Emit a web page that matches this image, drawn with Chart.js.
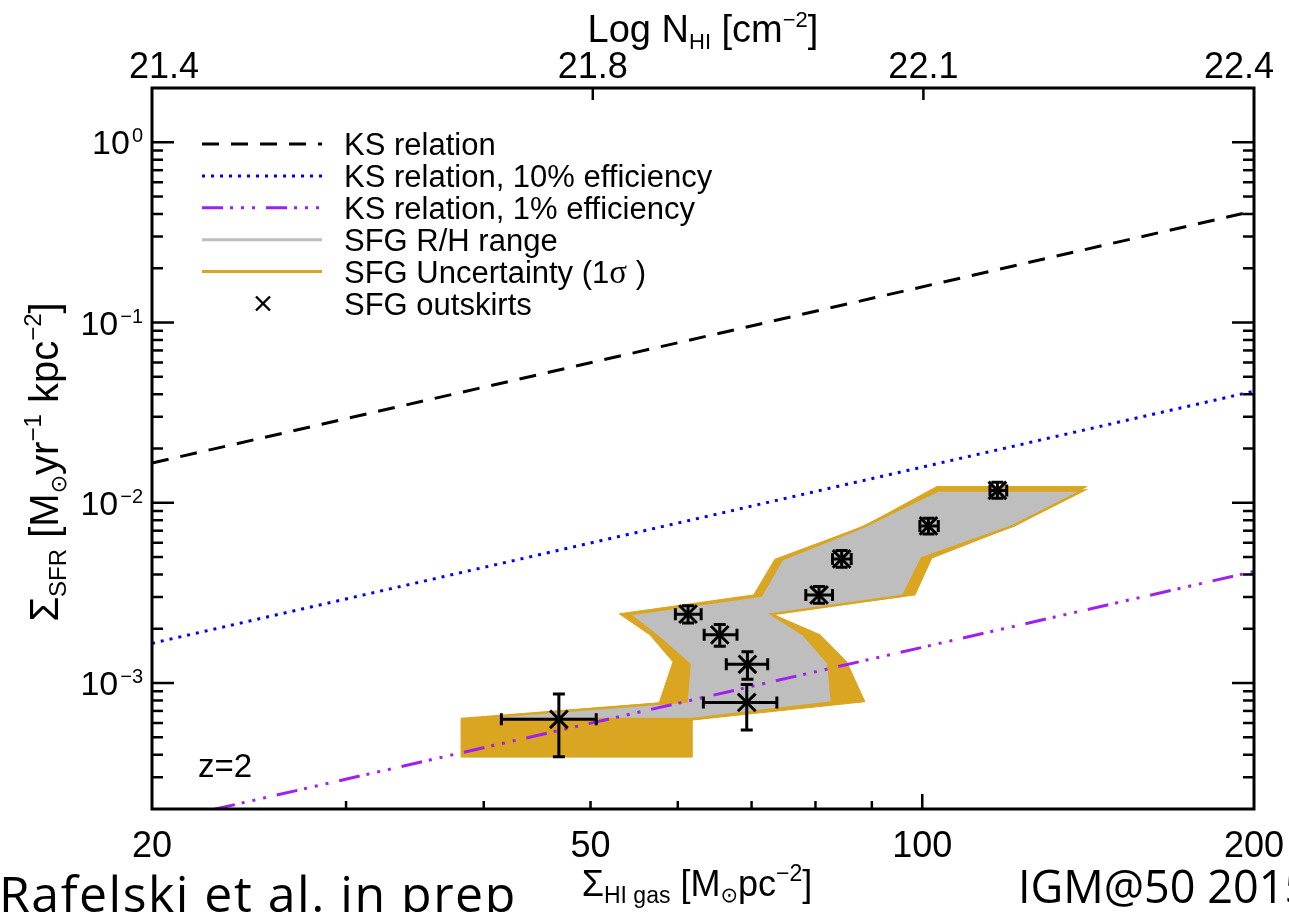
<!DOCTYPE html>
<html>
<head>
<meta charset="utf-8">
<title>Star formation efficiency in SFG outskirts, z=2</title>
<script src="https://cdn.jsdelivr.net/npm/chart.js@4.4.1/dist/chart.umd.min.js"></script>
<style>
  html, body { margin: 0; padding: 0; background: #fff; overflow: hidden; }
  #wrap { width: 1289px; height: 912px; position: relative; }
  canvas { display: block; }
</style>
</head>
<body>
<div id="wrap"><canvas id="chart" width="1289" height="912"></canvas></div>
<script>
const SANS = '"Liberation Sans", Arial, Helvetica, sans-serif';
const SERIF = '"Liberation Serif", "Times New Roman", serif';
const SYMBOL = '"DejaVu Sans", sans-serif';
const SLIDE = '"Open Sans", "Lato", sans-serif';

// Kennicutt-Schmidt reference lines: gas surface density [Msun pc^-2] -> SFR surface density
const ksGas   = [20, 200];
const ksSfr   = [0.0166, 0.416];
const ks10Sfr = [0.00166, 0.0416];
const ks1Sfr  = [0.000166, 0.00416];

// SFG outskirts measurements with their 1-sigma limits
const outGas   = [46.8, 69.3, 69.4, 65.5, 61.3, 80.6, 84.5, 101.3, 117.0];
const outSfr   = [6.29e-4, 7.80e-4, 1.27e-3, 1.85e-3, 2.41e-3, 3.08e-3, 4.88e-3, 7.44e-3, 1.17e-2];
const outGasLo = [41.5, 63.3, 66.4, 63.4, 59.7, 78.4, 82.9, 99.5, 115.2];
const outGasHi = [50.6, 73.8, 72.4, 67.9, 63.0, 82.9, 86.2, 103.4, 119.3];
const outSfrLo = [3.90e-4, 5.48e-4, 1.05e-3, 1.60e-3, 2.15e-3, 2.77e-3, 4.39e-3, 6.72e-3, 1.06e-2];
const outSfrHi = [8.69e-4, 9.80e-4, 1.49e-3, 2.11e-3, 2.68e-3, 3.43e-3, 5.43e-3, 8.21e-3, 1.30e-2];

// SFG R/H range outline (gas, SFR vertices)
const rhGas = [38.15, 61.1, 61.5, 57.6, 54.2, 71.4, 74.6, 88.4, 103.4, 139.9, 120.9, 99.9, 96.1, 73.0, 78.0, 82.2, 82.8, 61.8];
const rhSfr = [6.31e-4, 7.9e-4, 1.27e-3, 1.80e-3, 2.41e-3, 3.05e-3, 4.85e-3, 7.35e-3, 1.17e-2, 1.17e-2, 7.45e-3, 4.92e-3, 3.05e-3, 2.41e-3, 1.86e-3, 1.29e-3, 7.8e-4, 6.31e-4];

// 1-sigma uncertainty envelope outline (gas, SFR vertices)
const uncGas = [38.15, 38.15, 57.7, 59.4, 56.6, 53.1, 70.3, 73.5, 88.4, 103.1, 141.0, 121.8, 102.0, 98.5, 73.0, 80.8, 85.4, 88.7, 61.8, 61.8];
const uncSfr = [3.88e-4, 6.31e-4, 7.75e-4, 1.31e-3, 1.85e-3, 2.42e-3, 3.08e-3, 4.86e-3, 7.38e-3, 1.23e-2, 1.23e-2, 7.54e-3, 4.93e-3, 3.08e-3, 2.42e-3, 1.85e-3, 1.31e-3, 7.88e-4, 6.23e-4, 3.88e-4];

// axis ticks
const xTickLabels   = [20, 50, 100, 200];
const xMinorTicks   = [30, 40, 50, 60, 70, 80, 90];
const xMajorTicks   = [100];
const topTickLabels = [21.4, 21.8, 22.1, 22.4];
const topTicks      = [21.8, 22.1];
const yDecades      = [1, 0.1, 0.01, 0.001];
const yExponents    = ['0', '\u22121', '\u22122', '\u22123'];

const toPoints = (xs, ys) => xs.map((x, i) => ({ x, y: ys[i] }));
const closed = pts => pts.concat([pts[0]]);

const GOLD = '#DAA520';
const GREY = '#BEBEBE';
const PURPLE = '#A020F0';
const BLUE = '#0000FF';

const styleKS   = { color: '#000', width: 3, dash: [17, 12] };
const styleKS10 = { color: BLUE, width: 3, dash: [3, 6] };
const styleKS1  = { color: PURPLE, width: 3, dash: [21, 7, 3, 8, 3, 8, 3, 11] };

function drawRich(ctx, parts, x, y, align) {
  let w = 0;
  parts.forEach(p => { ctx.font = p[1] + 'px ' + (p[3] || SANS); w += ctx.measureText(p[0]).width; });
  let cx = align === 'center' ? x - w / 2 : (align === 'right' ? x - w : x);
  ctx.textAlign = 'left';
  parts.forEach(p => {
    ctx.font = p[1] + 'px ' + (p[3] || SANS);
    ctx.fillText(p[0], cx, y + (p[2] || 0));
    cx += ctx.measureText(p[0]).width;
  });
}

const errorBars = {
  id: 'errorBars',
  afterDatasetsDraw(chart) {
    const ctx = chart.ctx, sx = chart.scales.x, sy = chart.scales.y;
    const cap = 6;
    ctx.save();
    ctx.strokeStyle = '#000';
    ctx.lineWidth = 3;
    ctx.lineCap = 'butt';
    outGas.forEach((g, i) => {
      const px = sx.getPixelForValue(g), py = sy.getPixelForValue(outSfr[i]);
      const xl = sx.getPixelForValue(outGasLo[i]), xh = sx.getPixelForValue(outGasHi[i]);
      const yl = sy.getPixelForValue(outSfrLo[i]), yh = sy.getPixelForValue(outSfrHi[i]);
      ctx.beginPath();
      ctx.moveTo(xl, py); ctx.lineTo(xh, py);
      ctx.moveTo(xl, py - cap); ctx.lineTo(xl, py + cap);
      ctx.moveTo(xh, py - cap); ctx.lineTo(xh, py + cap);
      ctx.moveTo(px, yl); ctx.lineTo(px, yh);
      ctx.moveTo(px - cap, yl); ctx.lineTo(px + cap, yl);
      ctx.moveTo(px - cap, yh); ctx.lineTo(px + cap, yh);
      ctx.stroke();
    });
    ctx.restore();
  }
};

const decorations = {
  id: 'decorations',
  afterDraw(chart) {
    const ctx = chart.ctx, a = chart.chartArea;
    const sx = chart.scales.x, sxt = chart.scales.xTop, sy = chart.scales.y;
    const seg = (x1, y1, x2, y2) => { ctx.beginPath(); ctx.moveTo(x1, y1); ctx.lineTo(x2, y2); ctx.stroke(); };
    ctx.save();

    // frame
    ctx.strokeStyle = '#000';
    ctx.lineWidth = 3;
    ctx.strokeRect(a.left, a.top, a.right - a.left, a.bottom - a.top);

    // inward ticks
    ctx.lineWidth = 2.5;
    xMinorTicks.forEach(v => { const p = sx.getPixelForValue(v); seg(p, a.bottom, p, a.bottom - 8); });
    xMajorTicks.forEach(v => { const p = sx.getPixelForValue(v); seg(p, a.bottom, p, a.bottom - 15); });
    topTicks.forEach(v => { const p = sxt.getPixelForValue(v); seg(p, a.top, p, a.top + 12); });
    yDecades.forEach(v => { const p = sy.getPixelForValue(v); seg(a.left, p, a.left + 22, p); seg(a.right, p, a.right - 22, p); });
    for (let e = -4; e <= 0; e++) {
      for (let k = 2; k <= 9; k++) {
        const v = k * Math.pow(10, e);
        if (v < sy.min * 1.001 || v > sy.max * 0.999) continue;
        const p = sy.getPixelForValue(v);
        seg(a.left, p, a.left + 11, p);
        seg(a.right, p, a.right - 11, p);
      }
    }

    // tick labels
    ctx.fillStyle = '#000';
    ctx.textBaseline = 'alphabetic';
    ctx.font = '36px ' + SANS;
    ctx.textAlign = 'center';
    xTickLabels.forEach(v => ctx.fillText(String(v), sx.getPixelForValue(v), 857));
    topTickLabels.forEach((v, i) => {
      const shift = i === 0 ? 12 : (i === topTickLabels.length - 1 ? -15 : 0);
      ctx.fillText(v.toFixed(1), sxt.getPixelForValue(v) + shift, 78);
    });
    yDecades.forEach((v, i) => {
      const p = sy.getPixelForValue(v);
      ctx.font = '20px ' + SANS;
      const ws = ctx.measureText(yExponents[i]).width;
      ctx.textAlign = 'left';
      ctx.fillText(yExponents[i], 143 - ws, p);
      ctx.font = '34px ' + SANS;
      ctx.textAlign = 'right';
      ctx.fillText('10', 143 - ws - 2, p + 12);
    });

    // axis titles
    drawRich(ctx, [['Log N', 38], ['HI', 22, 7], [' [cm', 38], ['\u22122', 22, -15], [']', 38]], 703, 42, 'center');
    drawRich(ctx, [['\u03A3', 36], ['HI gas', 23, 7], [' [M', 36], ['\u2299', 21, 6, SYMBOL], ['pc', 36], ['\u22122', 23, -15], [']', 36]], 697, 896, 'center');
    ctx.save();
    ctx.translate(58, 462);
    ctx.rotate(-Math.PI / 2);
    drawRich(ctx, [['\u03A3', 40], ['SFR', 24, 8], [' [M', 40], ['\u2299', 22, 8, SYMBOL], ['yr', 40], ['\u22121', 24, -17], [' kpc', 40], ['\u22122', 24, -17], [']', 40]], 0, 0, 'center');
    ctx.restore();

    // redshift tag
    ctx.font = '33px ' + SANS;
    ctx.textAlign = 'left';
    ctx.fillText('z=2', 198, 777);

    // legend
    const rowY = i => 144 + 31.9 * i;
    const lx0 = 202, lx1 = 322, tx = 344;
    const sample = (i, st) => {
      ctx.save();
      ctx.strokeStyle = st.color; ctx.lineWidth = st.width; ctx.setLineDash(st.dash || []);
      seg(lx0, rowY(i), lx1, rowY(i));
      ctx.restore();
    };
    sample(0, styleKS);
    sample(1, styleKS10);
    sample(2, styleKS1);
    sample(3, { color: GREY, width: 3 });
    sample(4, { color: GOLD, width: 3 });
    ctx.save();
    ctx.lineWidth = 2.4;
    const mx = 263, my = rowY(5), mr = 7;
    seg(mx - mr, my - mr, mx + mr, my + mr);
    seg(mx - mr, my + mr, mx + mr, my - mr);
    ctx.restore();
    ctx.fillStyle = '#000';
    ctx.textAlign = 'left';
    ctx.font = '31px ' + SANS;
    ctx.fillText('KS relation', tx, rowY(0) + 11);
    ctx.fillText('KS relation, 10% efficiency', tx, rowY(1) + 11);
    ctx.fillText('KS relation, 1% efficiency', tx, rowY(2) + 11);
    ctx.fillText('SFG R/H range', tx, rowY(3) + 11);
    drawRich(ctx, [['SFG Uncertainty (1', 31], ['\u03C3', 33, 0, SERIF], [' )', 31]], tx, rowY(4) + 11, 'left');
    ctx.font = '31px ' + SANS;
    ctx.fillText('SFG outskirts', tx, rowY(5) + 11);

    // slide footer
    ctx.font = '50px ' + SLIDE;
    ctx.textAlign = 'left';
    if ('letterSpacing' in ctx) ctx.letterSpacing = '1.5px';
    ctx.fillText('Rafelski et al. in prep', -1, 912);
    if ('letterSpacing' in ctx) ctx.letterSpacing = '0px';
    ctx.font = '45px ' + SLIDE;
    ctx.fillText('IGM@50 2015', 1018, 903);

    ctx.restore();
  }
};

const hidden = { ticks: { display: false }, grid: { display: false }, border: { display: false } };

new Chart(document.getElementById('chart'), {
  type: 'scatter',
  data: {
    datasets: [
      {
        type: 'scatter', label: 'SFG outskirts', data: toPoints(outGas, outSfr),
        pointStyle: 'crossRot', pointRadius: 12.5, pointHoverRadius: 12.5,
        borderColor: '#000', backgroundColor: '#000', borderWidth: 3, order: 0
      },
      {
        type: 'line', label: 'KS relation, 1% efficiency', data: toPoints(ksGas, ks1Sfr),
        borderColor: styleKS1.color, borderWidth: styleKS1.width, borderDash: styleKS1.dash,
        pointRadius: 0, fill: false, tension: 0, order: 1
      },
      {
        type: 'line', label: 'KS relation, 10% efficiency', data: toPoints(ksGas, ks10Sfr),
        borderColor: styleKS10.color, borderWidth: styleKS10.width, borderDash: styleKS10.dash,
        pointRadius: 0, fill: false, tension: 0, order: 2
      },
      {
        type: 'line', label: 'KS relation', data: toPoints(ksGas, ksSfr),
        borderColor: styleKS.color, borderWidth: styleKS.width, borderDash: styleKS.dash,
        pointRadius: 0, fill: false, tension: 0, order: 3
      },
      {
        type: 'line', label: 'SFG R/H range', data: closed(toPoints(rhGas, rhSfr)),
        borderColor: GOLD, borderWidth: 2.5, backgroundColor: GREY, borderJoinStyle: 'miter',
        pointRadius: 0, fill: 'shape', tension: 0, order: 4
      },
      {
        type: 'line', label: 'SFG Uncertainty (1\u03C3)', data: closed(toPoints(uncGas, uncSfr)),
        borderColor: GOLD, borderWidth: 1, backgroundColor: GOLD,
        pointRadius: 0, fill: 'shape', tension: 0, order: 5
      }
    ]
  },
  options: {
    responsive: false,
    devicePixelRatio: 1,
    animation: false,
    events: [],
    layout: { padding: 0 },
    plugins: { legend: { display: false }, tooltip: { enabled: false } },
    scales: {
      x: Object.assign({ type: 'logarithmic', position: 'bottom', min: 20, max: 200,
        afterFit(s) { s.height = 103; } }, hidden),
      xTop: Object.assign({ type: 'linear', position: 'top', min: 21.4, max: 22.4,
        afterFit(s) { s.height = 88; } }, hidden),
      y: Object.assign({ type: 'logarithmic', position: 'left', min: 2e-4, max: 2,
        afterFit(s) { s.width = 152; } }, hidden),
      yRight: Object.assign({ type: 'logarithmic', position: 'right', min: 2e-4, max: 2,
        afterFit(s) { s.width = 35; } }, hidden)
    }
  },
  plugins: [errorBars, decorations]
});
</script>
</body>
</html>
